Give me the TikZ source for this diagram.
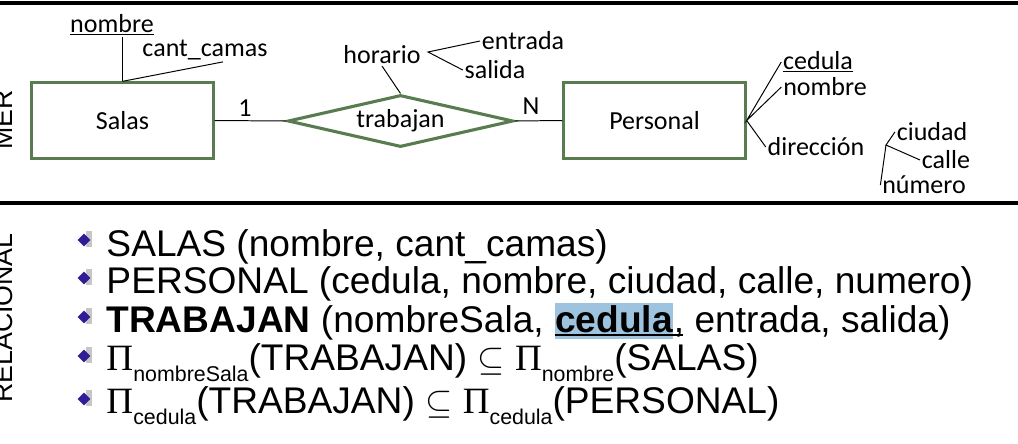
\documentclass[tikz,border=0pt]{standalone}
\usepackage{fontspec}
\setmainfont{Carlito}
\newfontfamily\arialfont{Liberation Sans}
\newfontfamily\greekserif{Liberation Serif}
\usetikzlibrary{shapes.geometric,positioning}
\definecolor{ergreen}{RGB}{88,124,80}
\definecolor{bulletviolet}{RGB}{50,28,150}
\definecolor{markblue}{RGB}{158,195,222}
\newcommand{\erfont}{\fontsize{18.5}{20}\selectfont}
\newcommand{\relfont}{\arialfont\fontsize{26.4}{28}\selectfont}
\newcommand{\projsub}[1]{{\greekserif Π}\raisebox{-8.5pt}{\fontsize{15.2}{15}\selectfont #1}}

\begin{document}
\begin{tikzpicture}
[x=0.025cm, y=-0.025cm, line width=0.7pt,
entity/.style={rectangle, draw=ergreen, line width=2.2pt, minimum width=4.53cm, minimum height=1.88cm, font=\erfont},
relation/.style={diamond, draw=ergreen, line width=2.2pt, aspect=4.3, inner sep=0pt, minimum width=5.63cm, minimum height=1.3cm, font=\erfont},
attr/.style={inner sep=1pt, font=\erfont},
reltext/.style={anchor=base west, inner sep=0pt, font=\relfont},
sidelabel/.style={anchor=base, inner sep=0pt, rotate=90, font=\arialfont\fontsize{19}{19}\selectfont},
bulletmark/.style={diamond, fill=bulletviolet, inner sep=0pt, minimum size=0.33cm},
bulletshade/.style={rectangle, fill=gray!45, inner sep=0pt, minimum width=0.16cm, minimum height=0.38cm}]

\useasboundingbox (0,0) rectangle (1018,443);
\fill[white] (0,0) rectangle (1018,443);

\draw[line width=2.8pt] (0,3) -- (1018,3);
\draw[line width=2.8pt] (0,203) -- (1018,203);

\node[sidelabel] (mer) at (12,120) {MER};
\node[sidelabel] (relacional) at (12,318) {RELACIONAL};

\node[entity] (salas) at (122.5,120.5) {Salas};
\node[relation] (trabajan) at (400.5,121) {trabajan};
\node[entity] (personal) at (654.5,120.5) {Personal};

\node[attr] (nombre) at (112,25) {\underline{nombre}};
\node[attr] (camas) at (205,50) {cant\_camas};
\node[attr] (horario) at (382,55) {horario};
\node[attr] (entrada) at (523,41) {entrada};
\node[attr] (salida) at (495,70) {salida};
\node[attr] (cedula) at (818,62) {\underline{cedula}};
\node[attr] (nombrep) at (825,87) {nombre};
\node[attr] (direccion) at (816,147) {dirección};
\node[attr] (ciudad) at (932,132) {ciudad};
\node[attr] (calle) at (946,160) {calle};
\node[attr] (numero) at (924,185) {número};
\node[attr] (card1) at (245,108) {1};
\node[attr] (cardn) at (531,106) {N};

\coordinate (hfork) at (428,52);
\coordinate (dfork) at (886,145);

\draw (salas.north |- nombre.south) -- (salas.north);
\draw ([xshift=0.45cm]camas.south) -- (salas.north);
\draw (salas.east) -- (trabajan.west);
\draw (trabajan.east) -- (personal.west);
\draw (horario.south) -- (trabajan.north);
\draw (entrada.west) -- (hfork) -- (salida.west);
\draw (cedula.west) -- (personal.east) -- (nombrep.west);
\draw (personal.east) -- (direccion.west);
\draw (ciudad.west) -- (dfork) -- (calle.west);
\draw (dfork) -- (numero.west);

\node[bulletshade] (s1) at (89,239) {};
\node[bulletmark] (b1) at (84,240) {};
\node[bulletshade] (s2) at (89,277) {};
\node[bulletmark] (b2) at (84,278) {};
\node[bulletshade] (s3) at (89,316) {};
\node[bulletmark] (b3) at (84,317) {};
\node[bulletshade] (s4) at (89,355) {};
\node[bulletmark] (b4) at (84,356) {};
\node[bulletshade] (s5) at (89,398) {};
\node[bulletmark] (b5) at (84,399) {};

\node[reltext] (rel1) at (106,256) {SALAS (nombre, cant\_camas)};
\node[reltext] (rel2) at (106,293) {PERSONAL (cedula, nombre, ciudad, calle, numero)};
\node[reltext] (rel3) at (106,332) {\textbf{TRABAJAN} (nombreSala,\kern0.278em};
\node[reltext, fill=markblue, text height=20.5pt, text depth=5pt] (keyced) at (rel3.base east) {\textbf{cedula}};
\node[reltext] (rel3b) at (keyced.base east) {, entrada, salida)};
\draw[line width=1.1pt] ([yshift=-2pt]keyced.base west) -- ([xshift=7pt,yshift=-2pt]rel3b.base west);
\node[reltext] (rel4) at (106,370) {\projsub{nombreSala}(TRABAJAN) $\subseteq$ \projsub{nombre}(SALAS)};
\node[reltext] (rel5) at (106,413) {\projsub{cedula}(TRABAJAN) $\subseteq$ \projsub{cedula}(PERSONAL)};

\end{tikzpicture}
\end{document}
